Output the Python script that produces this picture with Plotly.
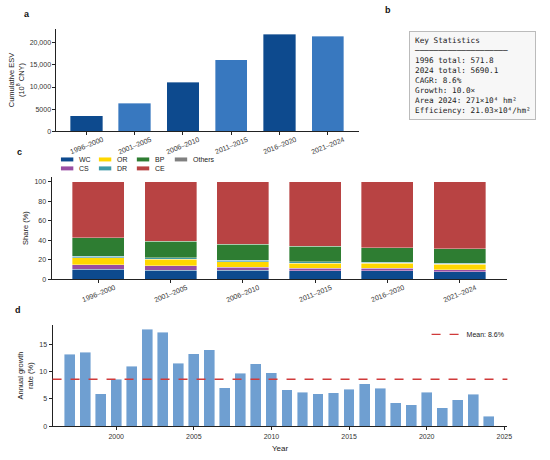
import numpy as np
import plotly.graph_objects as go

# ---- data ----
periods = ['1996–2000', '2001–2005', '2006–2010', '2011–2015', '2016–2020', '2021–2024']
cum_esv = [3530, 6310, 11130, 16160, 21950, 21500]
esv_ticks = [0, 5000, 10000, 15000, 20000]
esv_tick_text = ['0', '5000', '10,000', '15,000', '20,000']

# shares (%) per period, stacked bottom -> top
share_wc = [10.3, 9.2, 9.0, 8.6, 8.6, 7.6]
share_cs = [4.7, 4.5, 3.5, 2.4, 2.4, 2.0]
share_or = [7.0, 6.8, 5.5, 5.4, 5.5, 5.8]
share_dr = [1.5, 1.5, 1.5, 1.4, 1.0, 1.1]
share_bp = [19.0, 17.0, 16.5, 16.2, 14.7, 14.7]
share_ce = [57.5, 61.0, 64.0, 66.0, 67.8, 68.8]
share_others = [0.0, 0.0, 0.0, 0.0, 0.0, 0.0]

years = list(range(1997, 2025))
growth = [13.2, 13.6, 6.0, 8.6, 11.0, 17.8, 17.3, 11.6, 13.3, 14.0,
          7.1, 9.7, 11.5, 9.8, 6.7, 6.2, 6.0, 6.1, 6.8, 7.8,
          7.0, 4.3, 3.9, 6.2, 3.4, 4.9, 5.9, 1.8]
mean_growth = float(np.mean(growth))

stats_lines = ['Key Statistics', '─' * 20,
               '1996 total: 571.8', '2024 total: 5690.1', 'CAGR: 8.6%',
               'Growth: 10.0×', 'Area 2024: 271×10⁴ hm²',
               'Efficiency: 21.03×10⁴/hm²']

# ---- styling ----
FONT = 'Liberation Sans, Arial, sans-serif'
TICKF = dict(family=FONT, size=7, color='#333')
DARK, LIGHT = '#0d4a8e', '#3878bf'
layer_colors = {'WC': '#0d4a8e', 'CS': '#984ea3', 'OR': '#ffd700', 'DR': '#3f9aa8',
                'BP': '#2e7d32', 'CE': '#b84343', 'Others': '#808080'}
legend_cols = [['WC', 'CS'], ['OR', 'DR'], ['BP', 'CE'], ['Others']]

W, H = 550, 460
fig = go.Figure()

# ---- panel a ----
fig.add_trace(go.Bar(
    x=periods, y=cum_esv, width=0.67,
    marker=dict(color=[DARK if i % 2 == 0 else LIGHT for i in range(len(periods))],
                line=dict(color='rgba(255,255,255,0.6)', width=0.6)),
    showlegend=False, xaxis='x', yaxis='y'))

# ---- panel c ----
layers = [('WC', share_wc), ('CS', share_cs), ('OR', share_or), ('DR', share_dr),
          ('BP', share_bp), ('CE', share_ce), ('Others', share_others)]
for name, vals in layers:
    fig.add_trace(go.Bar(
        x=periods, y=vals, name=name, width=0.72,
        marker=dict(color=layer_colors[name],
                    line=dict(color='rgba(255,255,255,0.6)', width=0.6)),
        showlegend=False, xaxis='x2', yaxis='y2'))

# legend for panel c, laid out column-wise like matplotlib's ncol=4
for ci, col in enumerate(legend_cols):
    for ri, name in enumerate(col):
        x0 = 61.5 + 38.3 * ci
        yc = 160.5 + 9 * ri
        fig.add_shape(type='rect', xref='paper', yref='paper',
                      x0=x0 / W, x1=(x0 + 12.5) / W,
                      y0=1 - (yc + 2) / H, y1=1 - (yc - 2) / H,
                      fillcolor=layer_colors[name], line=dict(width=0))
        fig.add_annotation(x=(x0 + 16) / W, y=1 - yc / H, xref='paper', yref='paper',
                           text=name, showarrow=False, xanchor='left', yanchor='middle',
                           font=dict(family=FONT, size=7, color='#222'))

# ---- panel d ----
fig.add_trace(go.Bar(
    x=years, y=growth, width=0.7,
    marker=dict(color='#6f9fd1', line=dict(color='rgba(255,255,255,0.7)', width=0.6)),
    showlegend=False, xaxis='x3', yaxis='y3'))
fig.add_shape(type='line', xref='x3 domain', yref='y3', x0=0, x1=1,
              y0=mean_growth, y1=mean_growth,
              line=dict(color='#d03a3a', width=1.3, dash='dash'),
              showlegend=True, name=f'Mean: {mean_growth:.1f}%', legend='legend')

axis_common = dict(showline=True, linecolor='#222', linewidth=1, ticks='outside',
                   ticklen=3, tickcolor='#222', tickfont=TICKF, showgrid=False,
                   zeroline=False)

fig.update_layout(
    width=W, height=H, margin=dict(l=0, r=0, t=0, b=0),
    paper_bgcolor='white', plot_bgcolor='white', barmode='stack',
    font=dict(family=FONT, size=7, color='#222'),
    xaxis=dict(axis_common, domain=[0.1036, 0.658], anchor='y',
               range=[-0.62, 5.64], showticklabels=False),
    yaxis=dict(axis_common, domain=[0.713, 0.937], anchor='x', range=[0, 23200],
               tickvals=esv_ticks, ticktext=esv_tick_text,
               title=dict(text='Cumulative ESV<br>(10<sup>8</sup> CNY)',
                          font=dict(size=7.5), standoff=4)),
    xaxis2=dict(axis_common, domain=[0.0945, 0.931], anchor='y2',
                range=[-0.65, 5.66], showticklabels=False),
    yaxis2=dict(axis_common, domain=[0.389, 0.613], anchor='x2', range=[0, 105],
                tickvals=[0, 20, 40, 60, 80, 100],
                title=dict(text='Share (%)', font=dict(size=7.5), standoff=4)),
    xaxis3=dict(axis_common, domain=[0.0964, 0.931], anchor='y3',
                range=[1995.9, 2025.2], tickvals=[2000, 2005, 2010, 2015, 2020, 2025],
                title=dict(text='Year', font=dict(size=8), standoff=6)),
    yaxis3=dict(axis_common, domain=[0.0674, 0.289], anchor='x3', range=[0, 18.6],
                tickvals=[0, 5, 10, 15],
                title=dict(text='Annual growth<br>rate (%)', font=dict(size=7.5), standoff=4)),
    legend=dict(x=0.935, y=0.3, xanchor='right', yanchor='top', itemwidth=30,
                font=dict(size=7), bgcolor='rgba(0,0,0,0)'),
)

# rotated period labels under panels a and c
for xr, yc in [('x', 146), ('x2', 295)]:
    for p in periods:
        fig.add_annotation(x=p, xref=xr, y=1 - yc / H, yref='paper', text=p,
                           textangle=-22, showarrow=False, xanchor='center',
                           yanchor='middle', font=TICKF)

# panel letters
for letter, px_x, px_y in [('a', 27, 14), ('b', 392, 10), ('c', 20, 153), ('d', 18, 312)]:
    fig.add_annotation(x=px_x / W, y=1 - px_y / H, xref='paper', yref='paper',
                       text=f'<b>{letter}</b>', showarrow=False, xanchor='center',
                       yanchor='middle', font=dict(family=FONT, size=9, color='#111'))

# key statistics box
fig.add_annotation(x=413 / W, y=1 - 31 / H, xref='paper', yref='paper',
                   text='<br>'.join(stats_lines), showarrow=False, align='left',
                   xanchor='left', yanchor='top',
                   font=dict(family='DejaVu Sans Mono, monospace', size=7.7, color='#222'),
                   bgcolor='#f7f7f7', bordercolor='#bbbbbb', borderwidth=1, borderpad=4)

# drop the browser's default body margin so the figure sits at the page corner
fig.write_html('out.html', config={'displayModeBar': False},
               post_script="document.body.style.margin='0';")
